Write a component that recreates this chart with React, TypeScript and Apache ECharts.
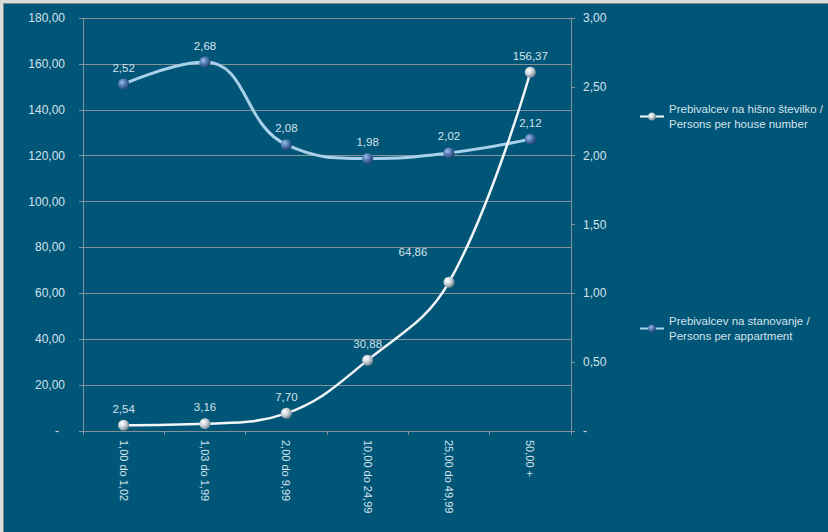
import React, { useEffect, useRef } from "react";
import * as echarts from "echarts";

// Household size classes
const categories = [
  "1,00 do 1,02",
  "1,03 do 1,99",
  "2,00 do 9,99",
  "10,00 do 24,99",
  "25,00 do 49,99",
  "50,00 +",
];

// Persons per house number (left axis)
const perHouseNumber = [2.54, 3.16, 7.7, 30.88, 64.86, 156.37];
// Persons per apartment (right axis)
const perApartment = [2.52, 2.68, 2.08, 1.98, 2.02, 2.12];

const seriesNames = [
  "Prebivalcev na hišno številko /\nPersons per house number",
  "Prebivalcev na stanovanje /\nPersons per appartment",
];

const FONT = "Liberation Sans, Arial, sans-serif";
const BG = "#015678";
const GRID = "#83949b";
const TEXT = "#d3e2eb";

const fmt = (v: number) => (v === 0 ? "-" : v.toFixed(2).replace(".", ","));

export default function App() {
  const ref = useRef<HTMLDivElement>(null);

  useEffect(() => {
    if (!ref.current) return;
    const chart = echarts.init(ref.current, undefined, { renderer: "svg" });

    const silverBall = new echarts.graphic.RadialGradient(0.35, 0.35, 0.7, [
      { offset: 0, color: "#ffffff" },
      { offset: 0.5, color: "#c9d3da" },
      { offset: 1, color: "#6d7c88" },
    ]);
    const blueBall = new echarts.graphic.RadialGradient(0.35, 0.35, 0.7, [
      { offset: 0, color: "#9fbde6" },
      { offset: 0.5, color: "#4f78b0" },
      { offset: 1, color: "#203f6a" },
    ]);

    const labelStyle = {
      show: true,
      position: "top" as const,
      color: TEXT,
      fontSize: 11.5,
      fontFamily: FONT,
      formatter: (p: any) => fmt(p.value as number),
    };

    const legendText = {
      color: TEXT,
      fontSize: 11.5,
      fontFamily: FONT,
      lineHeight: 15,
      padding: [15, 0, 0, 0],
    };

    chart.setOption({
      animation: false,
      backgroundColor: BG,
      textStyle: { fontFamily: FONT },
      grid: { left: 79, top: 14, right: 257, bottom: 101, containLabel: false },
      legend: [
        {
          data: [seriesNames[0]],
          left: 635,
          top: 90,
          padding: 0,
          itemWidth: 24,
          itemHeight: 10,
          itemGap: 4,
          textStyle: legendText,
        },
        {
          data: [seriesNames[1]],
          left: 635,
          top: 302,
          padding: 0,
          itemWidth: 24,
          itemHeight: 10,
          textStyle: legendText,
        },
      ],
      xAxis: {
        type: "category",
        data: categories,
        boundaryGap: true,
        axisLine: { lineStyle: { color: GRID, width: 1 } },
        axisTick: { show: true, length: 4, lineStyle: { color: GRID } },
        axisLabel: {
          rotate: -90,
          color: TEXT,
          fontSize: 11,
          fontFamily: FONT,
          margin: 9,
          interval: 0,
        },
      },
      yAxis: [
        {
          type: "value",
          min: 0,
          max: 180,
          interval: 20,
          axisLine: { show: true, lineStyle: { color: GRID } },
          axisTick: { show: true, length: 4, lineStyle: { color: GRID } },
          splitLine: { show: true, lineStyle: { color: GRID, width: 1 } },
          axisLabel: {
            color: TEXT,
            fontSize: 12,
            fontFamily: FONT,
            margin: 18,
            formatter: (v: number) => (v === 0 ? "{z|-}" : fmt(v)),
            rich: {
              z: { color: TEXT, fontSize: 12, fontFamily: FONT, padding: [0, 6, 0, 0] },
            },
          },
        },
        {
          type: "value",
          min: 0,
          max: 3,
          interval: 0.5,
          position: "right",
          axisLine: { show: true, lineStyle: { color: GRID } },
          axisTick: { show: true, length: 4, lineStyle: { color: GRID } },
          splitLine: { show: false },
          axisLabel: {
            color: TEXT,
            fontSize: 12,
            fontFamily: FONT,
            margin: 12,
            formatter: (v: number) => fmt(v),
          },
        },
      ],
      series: [
        {
          name: seriesNames[0],
          type: "line",
          yAxisIndex: 0,
          data: perHouseNumber,
          smooth: 0.4,
          symbol: "circle",
          symbolSize: 11,
          z: 3,
          lineStyle: { color: "#f2f6f9", width: 2.5 },
          itemStyle: { color: silverBall, borderWidth: 0 },
          label: { ...labelStyle },
          labelLayout: (p: any) =>
            p.dataIndex === 4 ? { dx: -36, dy: -14 } : {},
        },
        {
          name: seriesNames[1],
          type: "line",
          yAxisIndex: 1,
          data: perApartment,
          smooth: 0.45,
          symbol: "circle",
          symbolSize: 11,
          z: 2,
          lineStyle: { color: "#a9d0ea", width: 3 },
          itemStyle: { color: blueBall, borderWidth: 0 },
          label: { ...labelStyle },
        },
      ],
    });

    return () => chart.dispose();
  }, []);

  return (
    <div
      style={{
        position: "fixed",
        left: 0,
        top: 0,
        width: 828,
        height: 532,
        background: "#dcdcdc",
      }}
    >
      <div
        style={{
          position: "absolute",
          left: 3,
          top: 3,
          width: 825,
          height: 529,
          borderLeft: "1px solid #7d8a90",
          borderTop: "1px solid #7d8a90",
          boxSizing: "border-box",
        }}
      >
        <div ref={ref} style={{ width: 824, height: 528 }} />
      </div>
    </div>
  );
}
